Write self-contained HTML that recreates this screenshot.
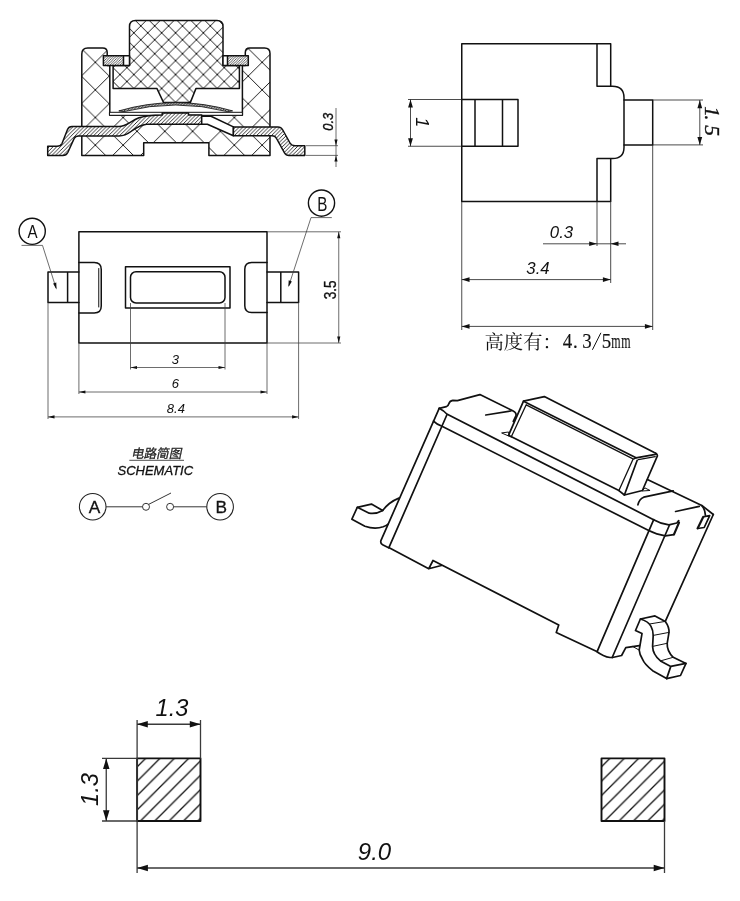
<!DOCTYPE html>
<html>
<head>
<meta charset="utf-8">
<title>Tact switch drawing</title>
<style>
html,body{margin:0;padding:0;background:#fff;}
body{width:740px;height:901px;overflow:hidden;font-family:"Liberation Sans",sans-serif;}
svg{display:block;position:absolute;left:0;top:0;filter:grayscale(1);}
.k{fill:none;stroke:#111;stroke-width:1.5;stroke-linejoin:round;stroke-linecap:round;}
.m{fill:none;stroke:#111;stroke-width:1.0;stroke-linejoin:round;stroke-linecap:round;}
.t{fill:none;stroke:#2a2a2a;stroke-width:0.85;}
#front .t,#section .t{stroke:#3c3c3c;stroke-width:0.75;}
.w{fill:#fff;}
.ar{fill:#111;stroke:none;}
text{font-family:"Liberation Sans",sans-serif;font-style:italic;fill:#111;}
.ser{font-family:"Liberation Serif",serif;font-style:italic;stroke:#111;stroke-width:0.35;}
.up{font-style:normal;}
.ser.up{stroke-width:0.15;}
</style>
</head>
<body>
<svg width="740" height="901" viewBox="0 0 740 901">
<defs>
  <pattern id="xh14" width="13.9" height="13.9" patternUnits="userSpaceOnUse" x="1.8" y="12">
    <path d="M-1 -1L14.9 14.9M-1 14.9L14.9 -1" stroke="#111" stroke-width="0.95" fill="none"/>
  </pattern>
  <pattern id="xh26" width="27.8" height="27.6" patternUnits="userSpaceOnUse" x="11.9" y="7.1">
    <path d="M-1.007 -1L28.807 28.6M-1.007 28.6L28.807 -1" stroke="#111" stroke-width="0.95" fill="none"/>
  </pattern>
  <pattern id="fh" width="3.7" height="3.7" patternUnits="userSpaceOnUse">
    <rect width="3.7" height="3.7" fill="#fff"/>
    <path d="M-1 4.7L4.7 -1M-1 1L1 -1M2.7 4.7L4.7 2.7" stroke="#1a1a1a" stroke-width="0.9" fill="none"/>
  </pattern>
  <pattern id="fh2" width="2.5" height="2.5" patternUnits="userSpaceOnUse">
    <rect width="2.5" height="2.5" fill="#fff"/>
    <path d="M-1 3.5L3.5 -1M-1 1L1 -1M1.5 3.5L3.5 1.5" stroke="#2a2a2a" stroke-width="0.75" fill="none"/>
  </pattern>
  <pattern id="fh3" width="2.8" height="2.8" patternUnits="userSpaceOnUse">
    <rect width="2.8" height="2.8" fill="#fff"/>
    <path d="M-1 3.8L3.8 -1M-1 1L1 -1M1.8 3.8L3.8 1.8" stroke="#111" stroke-width="0.95" fill="none"/>
  </pattern>
  <pattern id="ph" width="14.35" height="14.35" patternUnits="userSpaceOnUse" x="138" y="751.65">
    <path d="M-1 15.35L15.35 -1M-1 1L1 -1M13.35 15.35L15.35 13.35" stroke="#111" stroke-width="1.35" fill="none"/>
  </pattern>
  <pattern id="ph2" width="14.35" height="14.35" patternUnits="userSpaceOnUse" x="602.3" y="751.65">
    <path d="M-1 15.35L15.35 -1M-1 1L1 -1M13.35 15.35L15.35 13.35" stroke="#111" stroke-width="1.35" fill="none"/>
  </pattern>
</defs>

<!-- ============ SECTION VIEW (top-left) ============ -->
<g id="section">
  <!-- housing -->
  <path class="k" fill="url(#xh26)" style="fill:url(#xh26)" d="M81.8 155.5V54Q81.8 48 87.8 48H102.7Q107.2 48 107.2 52.5V65.5H109.8V115.3H242.4V65.5H245.3V52.5Q245.3 48 249.8 48H264.5Q270 48 270 53.5V155.5H208.9V142.8H143.7V155.5Z"/>
  <!-- plunger -->
  <path class="k" style="fill:url(#xh14)" d="M129.5 26.5Q129.5 20.5 135.5 20.5H217Q223 20.5 223 26.5V65.5H239.4V88.6H195.9L190.3 102.6H163.6L157 88.6H113.1V65.5H129.5Z"/>
  <!-- flanges -->
  <rect class="w" x="103.4" y="55.8" width="26.1" height="9.7"/>
  <rect x="103.4" y="55.8" width="20.1" height="9.7" style="fill:url(#fh2)"/>
  <path class="k" d="M103.4 55.8H129.5V65.5H103.4ZM123.5 55.8V65.5"/>
  <rect class="w" x="223" y="55.8" width="25.3" height="9.7"/>
  <rect x="227.5" y="55.8" width="20.8" height="9.7" style="fill:url(#fh2)"/>
  <path class="k" d="M223 55.8H248.3V65.5H223ZM227.5 55.8V65.5"/>
  <!-- dome -->
  <path class="t" style="fill:url(#fh3);stroke:#111;stroke-width:0.85;stroke-linejoin:round" d="M118.8 110.9Q175.7 94.3 232.6 110.9L227.5 111.6Q175.7 98.4 123.9 111.6Z"/>
  <!-- plate -->
  <rect class="w m" style="fill:#fff" x="109.8" y="112.3" width="132.6" height="3"/>
  <!-- left terminal + centre contact -->
  <path class="k" style="fill:url(#fh)" d="M47.7 146.3H57Q60.5 146.3 62 143.5L67.5 129.5Q68.8 126.5 72 126.5H119C126 126.5 130 121.5 139 117.8C146 115.5 152 114.9 162.2 114.9V113H188.5V114.9H201.7V124.3H146.5C140 125 136 128 131 131.5C127 134.5 124 135.9 119 135.9H78.5Q75.5 135.9 74.2 138.4L67.8 152.5Q66.3 155.6 62.8 155.6H47.7Z"/>
  <!-- white arm -->
  <path class="k w" style="fill:#fff" d="M201.7 116.3H211L233.4 126.9V135.8L207.4 124.2H201.7Z"/>
  <!-- right terminal -->
  <path class="k" style="fill:url(#fh)" d="M233.4 126.9H278Q281 126.9 282.5 129.5L290 143Q291.5 145.7 295 145.7H304.8V155.4H289Q286 155.4 284.5 152.8L276.5 138.5Q275 135.8 272 135.8H233.4Z"/>
  <!-- 0.3 dim -->
  <path class="t" d="M306 145.7H338M306 155.4H338M336 108V167"/>
  <path class="ar" d="M336 145.7L334.4 139.5H337.6ZM336 155.4L334.4 161.6H337.6Z"/>
  <text font-size="14.7" text-anchor="middle" style="stroke:#111;stroke-width:0.35" transform="translate(332.6 121.8) rotate(-90) scale(0.875 1)">0.3</text>
</g>

<!-- ============ SIDE VIEW (top-right) ============ -->
<g id="side">
  <path class="k" d="M461.75 201.6V43.75H610.7V86.3H597V43.75M597 86.3H612.5Q624 86.3 624 97.8V147.3Q624 158.6 612.5 158.6H597V201.6M610.7 158.6V201.6M461.75 201.6H610.7"/>
  <path class="k" d="M624 100H652.7V144.9H624"/>
  <path class="k" d="M461.75 99.5H518V146.25H461.75M475 99.5V146.25M502.5 99.5V146.25"/>
  <!-- dim 1 -->
  <path class="t" d="M408 99.5H461.75M408 146.25H461.75M410.5 99.5V146.25"/>
  <path class="ar" d="M410.5 99.5L408.1 107.4H412.9ZM410.5 146.25L408.1 138.35H412.9Z"/>
  <text font-size="18" text-anchor="middle" transform="translate(415.8 122.3) rotate(90)">1</text>
  <!-- dim 1.5 -->
  <path class="t" d="M652.7 100H703M652.7 144.9H703M699.8 100V144.9"/>
  <path class="ar" d="M699.8 100.3L697.4 108.2H702.2ZM699.8 144.9L697.4 137H702.2Z"/>
  <g class="ser" font-size="21.5" text-anchor="middle"><text class="ser" transform="translate(704.7 111.5) rotate(90)">1</text><text class="ser" transform="translate(704.7 117.9) rotate(90)">.</text><text class="ser" transform="translate(704.7 130.7) rotate(90)">5</text></g>
  <!-- extension lines -->
  <path class="t" d="M652.7 144.9V330M461.75 201.6V330M597 201.6V246M610.7 201.6V283"/>
  <!-- 0.3 -->
  <path class="t" d="M543 243.8H626"/>
  <path class="ar" d="M597 243.8L589.2 241.5V246.1ZM610.7 243.8L618.5 241.5V246.1Z"/>
  <text font-size="16.8" text-anchor="middle" x="561.5" y="237.6">0.3</text>
  <!-- 3.4 -->
  <path class="t" d="M461.75 279.6H610.7"/>
  <path class="ar" d="M461.75 279.6L469.55 277.3V281.9ZM610.7 279.6L602.9 277.3V281.9Z"/>
  <text font-size="16.8" text-anchor="middle" x="538" y="274.3">3.4</text>
  <!-- overall -->
  <path class="t" d="M461.75 326.4H652.7"/>
  <path class="ar" d="M461.75 326.4L469.55 324.1V328.7ZM652.7 326.4L644.9 324.1V328.7Z"/>
  <!-- 高度有：4.3/5mm -->
  <text x="484.6" y="349" font-size="19.3" text-anchor="start" style="font-family:'Liberation Serif','Noto Serif CJK SC',serif;font-style:normal;fill:#111">高度有：</text>
  <g class="ser up" font-size="21" text-anchor="middle"><text class="ser up" transform="translate(567.4 348.2) scale(0.9 1)">4</text><text class="ser up" transform="translate(575.4 348.2) scale(0.9 1)">.</text><text class="ser up" transform="translate(586.9 348.2) scale(0.9 1)">3</text><path d="M592.4 349.8L600.9 332.8" style="stroke:#111;stroke-width:1;fill:none"/><text class="ser up" transform="translate(606.4 348.2) scale(0.9 1)">5</text><text class="ser up" font-size="20" transform="translate(615.9 348.2) scale(0.6 1)">m</text><text class="ser up" font-size="20" transform="translate(625.9 348.2) scale(0.6 1)">m</text></g>
</g>

<!-- ============ FRONT VIEW (middle-left) ============ -->
<g id="front">
  <rect class="k" x="78.9" y="231.8" width="188.1" height="111.2"/>
  <path class="k" d="M78.9 271.9H48V302.5H78.9M67.6 271.9V302.5"/>
  <path class="k" d="M267 271.9H298.6V302.5H267M280.8 271.9V302.5"/>
  <path class="k" d="M78.9 262.5H94.25Q101.25 262.5 101.25 269.5V306Q101.25 313 94.25 313H78.9"/>
  <path class="m" d="M98.75 268.5V307"/>
  <path class="k" d="M267 262.4H251.6Q244.8 262.4 244.8 269.2V305.8Q244.8 312.6 251.6 312.6H267"/>
  <rect class="k" x="125.5" y="266.75" width="104.5" height="41.25"/>
  <rect class="k" x="130.5" y="271.75" width="94.5" height="31.25" rx="5.5" ry="5.5"/>
  <!-- balloons -->
  <circle class="m" style="stroke-width:1.4" cx="32.2" cy="231.3" r="13.1"/>
  <text class="up" font-size="18.9" text-anchor="middle" transform="translate(32.5 238.4) scale(0.8 1)">A</text>
  <path class="t" d="M21.5 245.4H42.5L56.1 288.2"/>
  <path class="ar" d="M56.5 289.4L53.1 283.6L56.3 282.6Z"/>
  <circle class="m" style="stroke-width:1.4" cx="321.5" cy="203.1" r="13.1"/>
  <text class="up" font-size="19.5" text-anchor="middle" transform="translate(322.4 211) scale(0.78 1)">B</text>
  <path class="t" d="M331.8 217.6H311L288.8 285.8"/>
  <path class="ar" d="M288.4 287L288.7 280.3L291.9 281.4Z"/>
  <!-- dim 3.5 -->
  <path class="t" d="M267 231.8H341M267 343H341M338.75 231.8V343"/>
  <path class="ar" d="M338.75 231.75L337.15 238.25H340.35ZM338.75 343L337.15 336.5H340.35Z"/>
  <text class="up" font-size="15.9" text-anchor="middle" style="stroke:#111;stroke-width:0.35" transform="translate(335.7 289.9) rotate(-90) scale(0.85 1)">3.5</text>
  <!-- dim 3 / 6 / 8.4 -->
  <path class="t" d="M130.5 303V369.5M225 303V369.5M130.5 367.5H225"/>
  <path class="ar" d="M130.5 367.5L137 365.9V369.1ZM225 367.5L218.5 365.9V369.1Z"/>
  <text font-size="13" text-anchor="middle" x="175.4" y="363.5">3</text>
  <path class="t" d="M78.9 343V394M267 343V394M78.9 392H267"/>
  <path class="ar" d="M78.9 392L85.4 390.4V393.6ZM267 392L260.5 390.4V393.6Z"/>
  <text font-size="13" text-anchor="middle" x="175.4" y="387.7">6</text>
  <path class="t" d="M48 302.5V419M298.6 302.5V419M48 416.9H298.6"/>
  <path class="ar" d="M48 416.9L54.5 415.3V418.5ZM298.6 416.9L292.1 415.3V418.5Z"/>
  <text font-size="13" text-anchor="middle" x="175.9" y="412.8">8.4</text>
</g>

<!-- ============ SCHEMATIC ============ -->
<g id="schem">
  <!-- 电路简图 -->
  <text font-size="12.6" text-anchor="start" transform="translate(130.9 458.1) skewX(-12)" style="font-family:'Liberation Sans','Noto Sans CJK SC',sans-serif;font-style:normal;fill:#222;stroke:#222;stroke-width:0.3">电路简图</text>
  <path class="t" style="stroke:#222;stroke-width:0.8" d="M129.3 460.3H184"/>
  <text font-size="13" text-anchor="middle" x="155.3" y="475.1" style="stroke:#111;stroke-width:0.3">SCHEMATIC</text>
  <circle class="m" style="stroke:#222;stroke-width:1.05" cx="92.7" cy="506.7" r="13.3"/>
  <circle class="m" style="stroke:#222;stroke-width:1.05" cx="220.1" cy="506.7" r="13.3"/>
  <text class="up" font-size="17.3" text-anchor="middle" x="94.4" y="513" style="stroke:#111;stroke-width:0.3">A</text>
  <text class="up" font-size="17.3" text-anchor="middle" x="221.2" y="513" style="stroke:#111;stroke-width:0.3">B</text>
  <path class="t" style="stroke:#2a2a2a;stroke-width:0.95" d="M106 506.8H142.5M173.7 506.8H206.8M148.6 504.4L171 493"/>
  <circle class="t" style="stroke:#2a2a2a;stroke-width:0.95" cx="146" cy="506.8" r="3.5"/>
  <circle class="t" style="stroke:#2a2a2a;stroke-width:0.95" cx="170.1" cy="506.8" r="3.5"/>
</g>

<!-- ============ ISOMETRIC VIEW ============ -->
<g id="iso" class="k" style="stroke-width:1.7">
  <!-- body: left edges -->
  <path d="M439.2 408.3L380.9 540.6Q380.2 543.6 382.6 544.8L388.6 547.7"/>
  <path d="M446.8 415L388.9 547.7"/>
  <!-- top-left wavy contour and back edge -->
  <path d="M439.2 408.3L446.3 406.7Q448.2 406.2 448.7 404Q449.6 400.8 452.8 400.3L457.4 400.6L479.9 394.6L513.2 411Q516.6 412.7 516 415.6L513.3 421.4"/>
  <path d="M485.8 415L510.9 411"/>
  <!-- top face front edge + right rounding -->
  <path d="M439.2 408.3Q443.6 410.6 446.8 414L653.1 519.4Q661 523.9 668.9 524.9L676.8 523L678.7 520.6"/>
  <!-- chamfer line -->
  <path d="M433.5 421.1Q437 424.6 442 426.3L648.2 530.3Q657 534.8 665.3 535.8L673.8 534.6"/>
  <!-- notch 1 -->
  <path style="stroke-width:2.2" d="M679 522.6L674 534.4"/>
  <!-- right side verticals -->
  <path d="M653.7 519.6L597.2 651.4"/>
  <path d="M669.5 525L612.2 657.5"/>
  <path d="M713.3 514.5L665.3 621.4"/>
  <!-- back top edge right of button -->
  <path d="M647.4 479.6L701.8 505.4L713.3 514.5"/>
  <path d="M701.8 505.6Q705 509 705.4 515.1"/>
  <path d="M675.6 511.5L699.3 506.4"/>
  <path d="M637.9 504.8Q639.3 499 643.7 497.2L673.2 490.8"/>
  <!-- notch 2 -->
  <path d="M709.7 515.7L704.2 527.5L697.5 528.5M709.7 515.7L704 516.6"/>
  <path style="stroke-width:2.2" d="M703.2 517L697.7 528.3"/>
  <!-- bottom edge -->
  <path d="M388.75 547.6L428.75 568.75L433 560.5L558.75 625L556.25 632.5L596.25 651.25Q603.5 656.6 610 657.5L612.5 657.5L621.6 655.5L625.8 647.6L639.4 645.7M428.75 568.75L442.3 565.3"/>
  <!-- button -->
  <path d="M523.5 401.2L544.3 396.6L653.8 452.2Q657.9 453.7 657.3 456.2L642.4 490.5L624.4 495L618.9 490.6L508.5 435.3Z"/>
  <path d="M523.5 401.2L636 457.8L655.6 454.3M637.2 460.3L624.4 495"/>
  <path style="stroke-width:1.3" d="M526.2 404.8L633.5 459.1L636 457.8M632.9 459.6L618.9 490.6M526.2 404.8L511.2 437M638.4 459.7L655.2 456.7"/>
  <path class="m" d="M642.4 490.7L644.9 487.9L649.7 490.3ZM502 432.9L508.6 432L509.4 436Z"/>
  <!-- left terminal -->
  <path d="M398.9 498.1Q388.8 502.2 382.7 510.5L371.4 504.1L357.3 507.3L351.9 519.2L364.9 526.2Q374.5 529.6 383.2 526.8Q386 525.8 388.1 524.1"/>
  <path d="M357.3 507.3L369.2 513.2Q376.5 514.2 382.7 510.5"/>
  <!-- right terminal -->
  <path d="M640.4 619L655 615.9L665.3 621.4Q669.4 627 669 632.4L667.2 643.3Q666.8 651 673.2 657.3L686 663.4L680.5 675.5L666.6 678.6L652.6 670.7Q644.2 663.6 642.8 659.7Q639.4 654.6 639.2 650L642 633.6L635.5 630.5Z"/>
  <path d="M640.4 619Q648.5 621.4 650.9 626.2Q653.2 630.4 653.2 635.4L652.6 646.4Q652.8 654.4 660.5 660.9L670.8 666.4L686 663.4M670.8 666.4L666.6 678.6"/>
  <path class="m" d="M650.1 623.9L665.3 621.4M653.2 635.4L669 632.4M652.6 646.4L667.2 643.3M660.5 660.9L673.2 657.3M632.8 646.5L639.3 650.2"/>
</g>

<!-- ============ LAND PATTERN (bottom) ============ -->
<g id="pads" style="--x:0">
  <rect x="137.1" y="758.4" width="63.4" height="62.6" style="fill:url(#ph)"/>
  <rect class="k" style="stroke-width:1.9" x="137.1" y="758.4" width="63.4" height="62.6"/>
  <rect x="601.5" y="758.4" width="63" height="62.6" style="fill:url(#ph2)"/>
  <rect class="k" style="stroke-width:1.9" x="601.5" y="758.4" width="63" height="62.6"/>
  <!-- top 1.3 -->
  <path class="t" style="stroke:#3a3a3a;stroke-width:1.3" d="M137.1 720V873M200.5 720V758.4M137.1 724.25H200.5"/>
  <path class="ar" d="M137.1 724.25L147.8 721V727.5ZM200.5 724.25L189.8 721V727.5Z"/>
  <text font-size="23.6" text-anchor="middle" x="172" y="715.6">1.3</text>
  <!-- left 1.3 -->
  <path class="t" style="stroke:#3a3a3a;stroke-width:1.3" d="M102 758.4H137.1M102 821H137.1M106.25 758.4V821"/>
  <path class="ar" d="M106.25 758.4L103 769.1H109.5ZM106.25 821L103 810.3H109.5Z"/>
  <text font-size="23.6" text-anchor="middle" transform="translate(98 789.5) rotate(-90)">1.3</text>
  <!-- 9.0 -->
  <path class="t" style="stroke:#3a3a3a;stroke-width:1.3" d="M664.5 821V873M137.1 868H664.5"/>
  <path class="ar" d="M137.1 868L147.9 864.7V871.3ZM664.5 868L653.7 864.7V871.3Z"/>
  <text font-size="24" text-anchor="middle" x="374.5" y="860">9.0</text>
</g>

</svg>
</body>
</html>
